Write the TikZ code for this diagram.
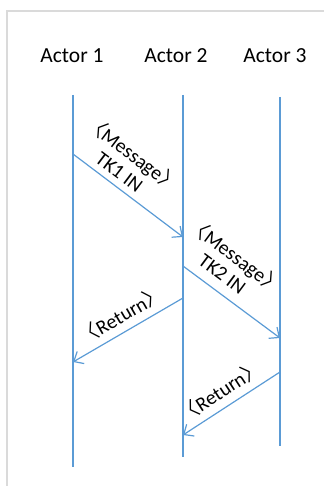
\documentclass[tikz,border=0pt]{standalone}
\usepackage{fontspec}
\setmainfont{Carlito}
\newfontfamily\cjkfont{Noto Sans CJK SC}
\usetikzlibrary{arrows.meta}
\definecolor{lifeblue}{RGB}{91,155,213}
\definecolor{framegray}{RGB}{218,218,218}
\newcommand{\lab}{{\cjkfont 〈}}
\newcommand{\rab}{{\cjkfont 〉}}
\begin{document}
\begin{tikzpicture}[x=1pt,y=-1pt,
  actor/.style={font=\fontsize{21.5}{25}\selectfont, anchor=base, inner sep=0pt},
  lifeline/.style={lifeblue, line width=1.4pt},
  msg/.style={lifeblue, line width=1.2pt, -{Straight Barb[length=8pt,width=14pt]}},
  lbl/.style={font=\fontsize{20}{22}\selectfont, align=center, inner sep=0pt}]
\useasboundingbox (0,0) rectangle (324,486);
\draw[framegray, line width=1.5pt] (7,486) -- (7,11) -- (324,11);
\node[actor] (a1) at (72,63) {Actor 1};
\node[actor] (a2) at (176,63) {Actor 2};
\node[actor] (a3) at (275,63) {Actor 3};
\coordinate (l1t) at (73,95);  \coordinate (l1b) at (73,467);
\coordinate (l2t) at (183,95); \coordinate (l2b) at (183,457);
\coordinate (l3t) at (280,97); \coordinate (l3b) at (280,446);
\draw[lifeline] (l1t) -- (l1b);
\draw[lifeline] (l2t) -- (l2b);
\draw[lifeline] (l3t) -- (l3b);
\coordinate (m1s) at (73,154);  \coordinate (m1e) at (183,237);
\coordinate (m2s) at (183,266); \coordinate (m2e) at (280,338);
\coordinate (r1s) at (183,298); \coordinate (r1e) at (73,362);
\coordinate (r2s) at (280,372); \coordinate (r2e) at (183,435);
\draw[msg] (m1s) -- (m1e);
\draw[msg] (m2s) -- (m2e);
\draw[msg] (r1s) -- (r1e);
\draw[msg] (r2s) -- (r2e);
\node[lbl, rotate=-37] (t1) at (127,162) {\lab Message\rab\\TK1 IN};
\node[lbl, rotate=-36.6] (t2) at (230,264) {\lab Message\rab\\TK2 IN};
\node[lbl, rotate=30] (t3) at (121,315) {\lab Return\rab};
\node[lbl, rotate=33] (t4) at (220,391) {\lab Return\rab};
\end{tikzpicture}
\end{document}
